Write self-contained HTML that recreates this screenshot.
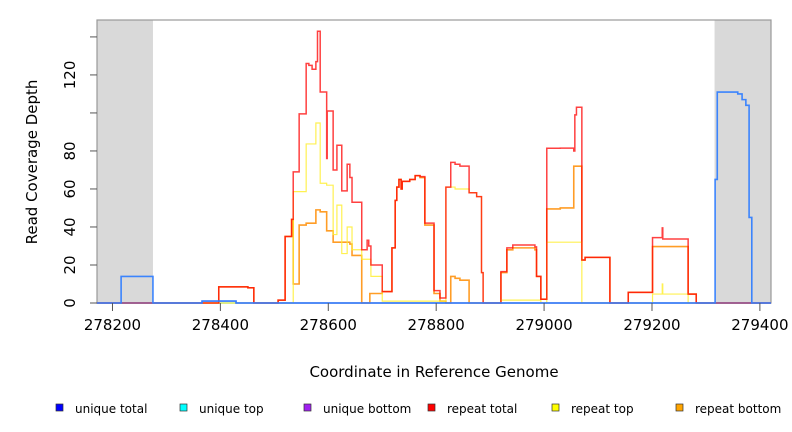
<!DOCTYPE html>
<html><head><meta charset="utf-8"><style>
body{margin:0;background:#fff;}
svg{display:block;font-family:"DejaVu Sans","Liberation Sans",sans-serif;}
</style></head><body>
<svg id="chart" width="792" height="432">
<g id="plot"></g>
<text x="434" y="377" font-size="15" text-anchor="middle">Coordinate in Reference Genome</text>
<text transform="translate(37,162) rotate(-90)" font-size="15" text-anchor="middle">Read Coverage Depth</text>
<g id="legend" font-size="12"></g>
</svg>
<script>
// data arrays (genome coordinate breakpoints and coverage values)
const xTicks=[278200,278400,278600,278800,279000,279200,279400];
const yTicks=[0,20,40,60,80,100,120,140];
const yLabels=["0","20","40","60","80","","120",""];
const maskedRegions=[[278171,278275],[279316,279421]];
const uniqueTotalPos=[278171,278216,278275,278366,278429,279317,279321,279359,279367,279374,279380,279385];
const uniqueTotalVal=[0,14,0,1,0,65,111,110,107,104,45,0];
const uniqueTopPos=[278171];
const uniqueTopVal=[0];
const uniqueBottomPos=[278171,278366,278429];
const uniqueBottomVal=[0,1,0];
const repeatTotalPos=[278171,278397,278451,278462,278507,278520,278532,278535,278546,278559,278564,278570,278577,278580,278585,278597,278598,278609,278616,278625,278635,278640,278644,278662,278672,278675,278679,278700,278718,278724,278727,278731,278735,278737,278751,278761,278770,278779,278796,278807,278818,278827,278835,278844,278861,278875,278884,278887,278920,278931,278942,278983,278986,278994,279005,279030,279055,279057,279060,279070,279076,279122,279156,279201,279219,279220,279267,279282];
const repeatTotalVal=[0,8.5,8,0,1.5,35,44,69,99.5,126,125,123,127,143,111,76,101,70,83,59,73,66,53,28,33,30,20,6,29,54,61,65,60,64,65,67,66.5,42,6.5,2.6,61,74,73,72,58,56,16,0,16.5,29,30.5,29.5,14,2,81.4,81.5,80,99,103,22.6,24,0,5.6,34.4,39.5,33.7,4.7,0];
const repeatTopPos=[278171,278535,278559,278577,278585,278597,278609,278616,278625,278635,278644,278662,278679,278700,278818,278835,278861,278875,278884,278887,278920,278994,279005,279070,279201,279219,279220,279267];
const repeatTopVal=[0,58.6,83.7,94.7,63,62,36,51.5,26,40,28,23,14,1,61,60,58,56,16,0,1.5,0,32,0,4.7,10,4.7,0];
const repeatBottomPos=[278171,278397,278451,278462,278507,278520,278532,278535,278546,278559,278577,278585,278597,278609,278640,278644,278662,278677,278700,278718,278724,278727,278731,278735,278737,278751,278761,278770,278779,278796,278807,278818,278827,278835,278844,278861,278920,278931,278942,278983,278986,278994,279005,279030,279055,279070,279076,279122,279156,279201,279267,279282];
const repeatBottomVal=[0,8.5,8,0,1.5,35,44,10,41,42,49,48,38,32,31,25,0,5,6,29,54,61,65,60,64,65,67,66,41,5,1,0,14,13,12,0,16,28,29,28,14,2,49.5,50,72,22.6,24,0,5.6,29.7,4.7,0];
const legendNames=["unique total","unique top","unique bottom","repeat total","repeat top","repeat bottom"];
const legendColors=["#0000ff","#00ffff","#a020f0","#ff0000","#ffff00","#ffa500"];

const NS="http://www.w3.org/2000/svg";
const L=97,R=771,T=20,B=303,X0=278171.3,X1=279420.6,Y1=148.9;
const sx=v=>L+(v-X0)/(X1-X0)*(R-L);
const sy=v=>B-v/Y1*(B-T);
const plot=document.getElementById('plot');
function mk(tag,attrs,parent){const e=document.createElementNS(NS,tag);for(const k in attrs)e.setAttribute(k,attrs[k]);(parent||plot).appendChild(e);return e;}

maskedRegions.forEach(r=>{
  const e=mk('rect',{x:sx(r[0]),y:T,width:sx(r[1])-sx(r[0]),height:B-T,fill:'#d9d9d9'});
  
  
});
const box=mk('rect',{x:L,y:T,width:R-L,height:B-T,fill:'none',stroke:'#999','stroke-width':1.2});



function step(pos,val,color,w,op,name){
  let d='';
  for(let i=0;i<pos.length;i++){
    const x=sx(pos[i]),y=sy(val[i]);
    d+=(i?'L'+x+','+sy(val[i-1])+'L':'M')+x+','+y;
  }
  d+='L'+sx(X1)+','+sy(val[val.length-1]);
  const e=mk('path',{d:d,fill:'none',stroke:color,'stroke-width':w,'stroke-opacity':op});
  
  
}
step(uniqueTopPos,uniqueTopVal,'#00ffff',1.2,0.5,'unique-top-line');
step(repeatBottomPos,repeatBottomVal,'#ff8c00',1.6,0.85,'repeat-bottom-line');
step(repeatTopPos,repeatTopVal,'#ffee33',1.2,0.85,'repeat-top-line');
step(repeatTotalPos,repeatTotalVal,'#ff0000',1.5,0.75,'repeat-total-line');
step(uniqueBottomPos,uniqueBottomVal,'#6a5acd',1.4,0.8,'unique-bottom-line');
step(uniqueTotalPos,uniqueTotalVal,'#3380ff',1.6,0.95,'unique-total-line');

const svg=document.getElementById('chart');
xTicks.forEach(t=>{
  const x=sx(t);
  const l=mk('line',{x1:x,x2:x,y1:B,y2:B+8,stroke:'#555'},svg);
  
  
  const tx=mk('text',{x:x,y:B+27,'font-size':15,'text-anchor':'middle'},svg);
  tx.textContent=t;
  
  
});
yTicks.forEach((t,i)=>{
  const y=sy(t);
  const l=mk('line',{x1:L-7,x2:L,y1:y,y2:y,stroke:'#555'},svg);
  
  
  if(yLabels[i]){
    const tx=mk('text',{transform:'translate('+(L-22)+','+y+') rotate(-90)','font-size':15,'text-anchor':'middle'},svg);
    tx.textContent=yLabels[i];
    
    
  }
});
const lg=document.getElementById('legend');
legendNames.forEach((n,i)=>{
  const x=59+i*124;
  const r=mk('rect',{x:x-3,y:404,width:7,height:7,fill:legendColors[i],stroke:'#333','stroke-width':0.7},lg);
  
  
  const t=mk('text',{x:x+16,y:413},lg);
  t.textContent=n;
  
  
});
</script>
</body></html>
